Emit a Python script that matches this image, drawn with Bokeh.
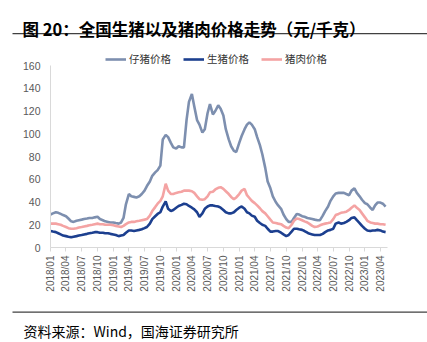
import math
import pandas as pd
from bokeh.plotting import figure
from bokeh.layouts import column
from bokeh.models import (ColumnDataSource, Legend, LegendItem, Label,
                          FixedTicker, DatetimeTickFormatter, Range1d)
from bokeh.embed import file_html
from bokeh.resources import INLINE

# ---------------- data (semi-monthly readings, 2018-01-01 .. 2023-05-01) ----------------
piglet = [29, 30, 31, 30.5, 29.5, 28.5, 27.5, 25.5, 23, 22.5, 23.5, 24, 24.5, 25, 25.5, 26, 26, 26.5,
          27, 25, 24, 23, 22.5, 22, 22, 21.5, 21, 22, 26, 38, 47, 45, 44.5, 44, 45, 47, 50, 54, 58,
          63, 66, 68, 72, 95, 99, 97, 92, 88, 87, 89, 88, 88, 112, 128, 135, 124, 112, 108, 101, 104,
          118, 126, 117, 120, 125, 122, 116, 104, 95, 89, 85, 84, 92, 98, 104, 108, 110, 108, 104, 97,
          90, 82, 70, 58, 52, 45, 40, 37, 34, 29, 25, 22.5, 22.5, 26, 29.5, 29, 27.5, 27, 26, 25.5,
          25, 24.5, 24, 24, 28, 32, 36, 41, 45, 47.5, 48, 48, 48, 47, 46, 50, 52, 48, 45, 42, 39,
          38, 35, 33, 37, 39.5, 39.5, 38.5, 36]
hog = [14.5, 14, 13.5, 12.5, 11.5, 10.5, 10, 9.5, 9, 9.5, 10, 10.5, 11, 11.5, 12, 12.5, 13, 13.5,
       13.5, 13, 13, 12.5, 12.5, 12, 11.5, 11, 10, 10.5, 11, 13, 15, 15, 14.5, 15, 15.5, 16, 17, 18,
       21, 25, 27.5, 29.5, 31, 36, 40.5, 34, 32, 33, 35, 36.5, 37.5, 38.5, 38, 36.5, 35, 33.5, 31,
       27, 30, 34, 36, 37, 37, 36.5, 36, 35, 33, 31, 30, 30, 31, 33, 35, 36, 34, 31, 30, 28, 27,
       23.5, 21.5, 20, 19, 16.5, 14, 14, 14.5, 14.5, 13, 11.5, 10, 11, 14, 16.5, 16.5, 16, 15.5,
       14.5, 13, 12, 11.5, 11, 11, 11, 12, 13.5, 15, 15.5, 16.5, 21, 22, 21, 21.5, 22.5, 24, 26,
       26.5, 24, 21.5, 19, 16.5, 15, 14.5, 15, 15, 15.5, 15, 14, 13.5]
pork = [21, 21, 21, 20.5, 20, 19, 18, 17, 16.5, 16.5, 17, 17.5, 18, 18.5, 19, 19.5, 20, 20.5, 21,
        20.5, 20.5, 20, 20, 20, 19.5, 19, 18.5, 18, 19, 20.5, 22, 22.5, 22.5, 23, 23.5, 24, 24.5,
        25, 28, 32, 35.5, 38.5, 41, 45, 56, 50, 47, 47, 48, 48.5, 49, 50, 50, 50, 49.5, 48, 45,
        42.5, 42, 42.5, 45, 48.5, 49, 51, 52.5, 53, 51.5, 49.5, 47, 44.5, 42.5, 44, 47, 50, 51.5,
        46, 43.5, 41, 39, 37, 34.5, 32, 30, 27.5, 24.5, 22, 21.5, 21, 20.5, 19, 17.5, 17, 20, 23.5,
        25.5, 25, 24, 23, 22, 20.5, 19, 18, 18.5, 19.5, 20.5, 21, 21.5, 22, 25, 28.5, 29.5, 30.5,
        31, 31.5, 33, 35, 37, 35, 33, 30, 26.5, 23.5, 22, 21.5, 21, 21, 20.5, 20.5, 20]
dates = pd.date_range("2018-01-01", periods=len(piglet), freq="SMS")

series_names = ["仔猪价格", "生猪价格", "猪肉价格"]
tick_dates = pd.date_range("2018-01-01", "2023-04-01", freq="QS")
y_ticks = [0, 20, 40, 60, 80, 100, 120, 140, 160]

title_text = "图 20：全国生猪以及猪肉价格走势（元/千克）"
source_text = "资料来源：Wind，国海证券研究所"

W = 427
HEAD_H, MAIN_H, FOOT_H = 45, 255, 42
CJK = "Noto Sans CJK SC"


def blank_fig(h, y0):
    """A figure whose frame is the whole canvas, with y in page pixels (top-down)."""
    f = figure(width=W, height=h, output_backend="svg", toolbar_location=None,
               x_axis_location=None, y_axis_location=None, frame_align=False,
               min_border=0, min_border_left=0, min_border_right=0,
               min_border_top=0, min_border_bottom=0)
    f.x_range = Range1d(0, W)
    f.y_range = Range1d(y0 + h, y0)
    f.outline_line_color = None
    f.grid.grid_line_color = None
    f.border_fill_color = "white"
    return f


# ---------------- header ----------------
head = blank_fig(HEAD_H, 0)
head.add_layout(Label(x=22, y=28, text=title_text, text_font=CJK, text_font_size="16.5px",
                      text_font_style="bold", text_color="#000000", text_baseline="alphabetic"))
head.segment(x0=[12], y0=[33.2], x1=[W], y1=[33.2], line_color="#404040", line_width=1.3)

# ---------------- main chart ----------------
# frame: canvas x 50..387, y 50..247 ; value 160 sits 15 px below the frame top (legend room)
Y_MAX = 160
y_top = Y_MAX + 15 * Y_MAX / 182.0
p = figure(width=W, height=MAIN_H, output_backend="svg", toolbar_location=None,
           x_axis_type="datetime", frame_align=False,
           min_border_left=50, min_border_right=40, min_border_top=5, min_border_bottom=53)
p.x_range = Range1d(pd.Timestamp("2018-01-01"), pd.Timestamp("2023-05-12"))
p.y_range = Range1d(0, y_top)
p.outline_line_color = None
p.grid.grid_line_color = None
p.border_fill_color = "white"

src = ColumnDataSource(dict(d=dates, piglet=piglet, hog=hog, pork=pork))
r1 = p.line("d", "piglet", source=src, line_color="#7D8FAF", line_width=2.6)
r2 = p.line("d", "hog", source=src, line_color="#1C3F8F", line_width=2.6)
r3 = p.line("d", "pork", source=src, line_color="#F4A3A3", line_width=2.6)

axis_font = "Liberation Sans"
xa = p.xaxis[0]
xa.ticker = FixedTicker(ticks=[t.value // 10**6 for t in tick_dates])
fmt = "%Y/%m"
xa.formatter = DatetimeTickFormatter(days=fmt, months=fmt, years=fmt, hours=fmt, minutes=fmt)
xa.major_label_orientation = math.pi / 2
xa.major_label_text_font = axis_font
xa.major_label_text_font_size = "10px"
xa.major_label_text_color = "#595959"
xa.axis_line_color = "#D9D9D9"
xa.major_tick_line_color = "#D9D9D9"
xa.major_tick_out = 4
xa.major_tick_in = 0
xa.minor_tick_line_color = None
xa.major_label_standoff = 4

ya = p.yaxis[0]
ya.ticker = FixedTicker(ticks=y_ticks)
ya.bounds = (0, Y_MAX)
ya.major_label_text_font = axis_font
ya.major_label_text_font_size = "10.5px"
ya.major_label_text_color = "#595959"
ya.axis_line_color = "#D9D9D9"
ya.major_tick_line_color = None
ya.minor_tick_line_color = None
ya.major_tick_out = 0
ya.major_label_standoff = 10

legend = Legend(items=[LegendItem(label=series_names[0], renderers=[r1]),
                       LegendItem(label=series_names[1], renderers=[r2]),
                       LegendItem(label=series_names[2], renderers=[r3])],
                orientation="horizontal", location=(55, 181),
                label_text_font=CJK, label_text_font_size="10.5px",
                label_text_color="#333333", glyph_width=21, glyph_height=10,
                label_standoff=3, spacing=12, padding=0, margin=0,
                border_line_color=None, background_fill_alpha=0)
p.add_layout(legend)

# ---------------- footer ----------------
foot = blank_fig(FOOT_H, HEAD_H + MAIN_H)
foot.segment(x0=[12], y0=[311.7], x1=[W], y1=[311.7], line_color="#404040", line_width=1.3)
foot.add_layout(Label(x=23, y=330.5, text=source_text, text_font=CJK, text_font_size="14px",
                      text_color="#000000", text_baseline="alphabetic"))

layout = column(head, p, foot, spacing=0)
open("out.html", "w").write(file_html(layout, INLINE))
